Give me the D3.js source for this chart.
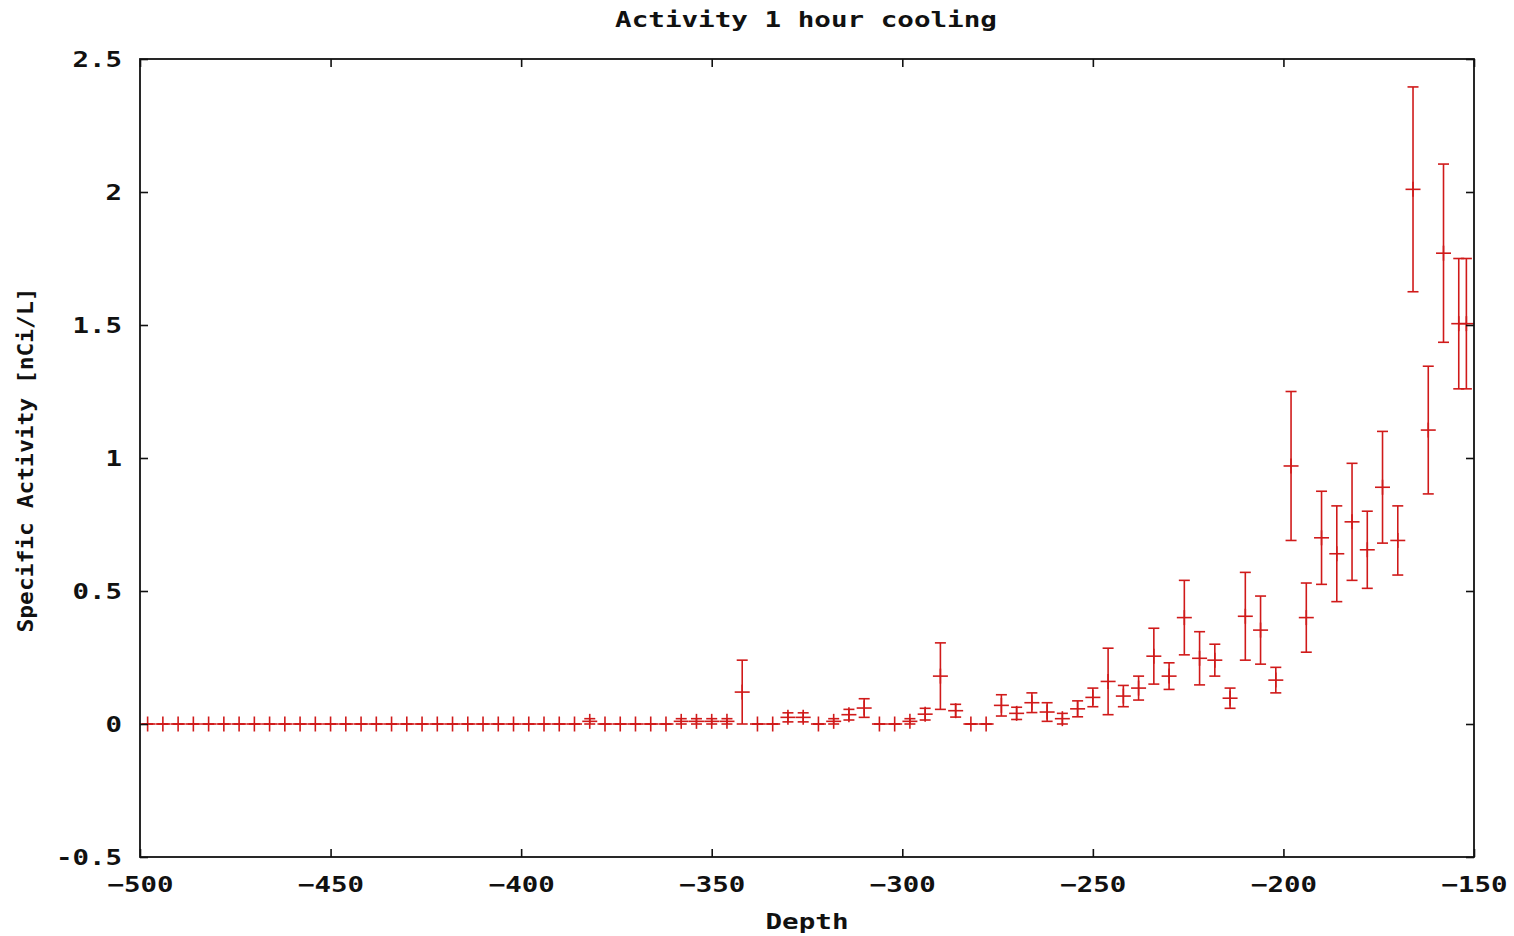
<!DOCTYPE html>
<html>
<head>
<meta charset="utf-8">
<script src="https://cdn.jsdelivr.net/npm/d3@7"></script>
<style>
  html, body { margin: 0; padding: 0; background: #fff; }
  svg { display: block; }
  text { font-family: "DejaVu Sans Mono", "Liberation Mono", monospace; font-weight: bold; fill: #111; }
</style>
</head>
<body>
<svg id="chart" width="1514" height="936"></svg>
<script>
// ---- data ----
const title = "Activity 1 hour cooling";
const xLabel = "Depth";
const yLabel = "Specific Activity [nCi/L]";

const depth = [
  -498, -494, -490, -486, -482, -478, -474, -470, -466, -462,
  -458, -454, -450, -446, -442, -438, -434, -430, -426, -422,
  -418, -414, -410, -406, -402, -398, -394, -390, -386, -382,
  -378, -374, -370, -366, -362, -358, -354, -350, -346, -342,
  -338, -334, -330, -326, -322, -318, -314, -310, -306, -302,
  -298, -294, -290, -286, -282, -278, -274, -270, -266, -262,
  -258, -254, -250, -246, -242, -238, -234, -230, -226, -222,
  -218, -214, -210, -206, -202, -198, -194, -190, -186, -182,
  -178, -174, -170, -166, -162, -158, -154, -152
];
const activity = [
  0, 0, 0, 0, 0, 0, 0, 0, 0, 0,
  0, 0, 0, 0, 0, 0, 0, 0, 0, 0,
  0, 0, 0, 0, 0, 0, 0, 0, 0, 0.01,
  0, 0, 0, 0, 0, 0.01, 0.01, 0.01, 0.01, 0.12,
  0, 0, 0.025, 0.025, 0, 0.01, 0.035, 0.06, 0, 0,
  0.01, 0.037, 0.18, 0.05, 0, 0, 0.07, 0.04, 0.08, 0.045,
  0.02, 0.057, 0.1, 0.16, 0.105, 0.135, 0.255, 0.18, 0.4, 0.247,
  0.24, 0.097, 0.405, 0.353, 0.165, 0.97, 0.4, 0.7, 0.64, 0.76,
  0.655, 0.89, 0.69, 2.01, 1.105, 1.77, 1.505, 1.505
];
const errorVal = [
  0, 0, 0, 0, 0, 0, 0, 0, 0, 0,
  0, 0, 0, 0, 0, 0, 0, 0, 0, 0,
  0, 0, 0, 0, 0, 0, 0, 0, 0, 0.01,
  0, 0, 0, 0, 0, 0.01, 0.01, 0.01, 0.01, 0.12,
  0, 0, 0.017, 0.017, 0, 0.01, 0.02, 0.035, 0, 0,
  0.01, 0.022, 0.125, 0.024, 0, 0, 0.04, 0.023, 0.037, 0.035,
  0.02, 0.03, 0.035, 0.125, 0.04, 0.045, 0.105, 0.05, 0.14, 0.1,
  0.06, 0.038, 0.165, 0.128, 0.048, 0.28, 0.13, 0.175, 0.18, 0.22,
  0.145, 0.21, 0.13, 0.385, 0.24, 0.335, 0.245, 0.245
];
const xTicks = [-500, -450, -400, -350, -300, -250, -200, -150];
const yTicks = [-0.5, 0, 0.5, 1, 1.5, 2, 2.5];
const yTickLabels = ["-0.5", "0", "0.5", "1", "1.5", "2", "2.5"];

// ---- layout ----
const W = 1514, H = 936;
const plot = { left: 140, right: 1474, top: 59, bottom: 857 };
const charW = 16.5;
const red = "#d01a1a";

const svg = d3.select("#chart");
const x = d3.scaleLinear().domain([-500, -150]).range([plot.left, plot.right]);
const y = d3.scaleLinear().domain([-0.5, 2.5]).range([plot.bottom, plot.top]);

function stretch(sel, cw) {
  sel.attr("textLength", function () { return this.textContent.length * cw; })
     .attr("lengthAdjust", "spacingAndGlyphs");
}

// data group (clipped to plot)
svg.append("clipPath").attr("id", "clip")
  .append("rect").attr("x", plot.left).attr("y", plot.top)
  .attr("width", plot.right - plot.left).attr("height", plot.bottom - plot.top);

const data = depth.map((d, i) => ({ d, v: activity[i], e: errorVal[i] }));
const g = svg.append("g").attr("clip-path", "url(#clip)")
  .attr("stroke", red).attr("stroke-width", 1.6).attr("fill", "none");

const cap = 5.5, plus = 7.5;
const pts = g.selectAll("g.pt").data(data).join("g").attr("class", "pt");
pts.append("line")
  .attr("x1", p => x(p.d)).attr("x2", p => x(p.d))
  .attr("y1", p => y(p.v - p.e)).attr("y2", p => y(p.v + p.e));
pts.append("line")
  .attr("x1", p => x(p.d) - cap).attr("x2", p => x(p.d) + cap)
  .attr("y1", p => y(p.v + p.e)).attr("y2", p => y(p.v + p.e));
pts.append("line")
  .attr("x1", p => x(p.d) - cap).attr("x2", p => x(p.d) + cap)
  .attr("y1", p => y(p.v - p.e)).attr("y2", p => y(p.v - p.e));
// '+' point marker
pts.append("line")
  .attr("x1", p => x(p.d) - plus).attr("x2", p => x(p.d) + plus)
  .attr("y1", p => y(p.v)).attr("y2", p => y(p.v));
pts.append("line")
  .attr("x1", p => x(p.d)).attr("x2", p => x(p.d))
  .attr("y1", p => y(p.v) - plus).attr("y2", p => y(p.v) + plus);

// axes (gnuplot style: inward ticks mirrored on all sides)
const tickLen = 8;
const axB = svg.append("g").attr("transform", `translate(0,${plot.bottom})`)
  .call(d3.axisBottom(x).tickValues(xTicks).tickSize(-tickLen).tickFormat(d3.format("d")));
const axT = svg.append("g").attr("transform", `translate(0,${plot.top})`)
  .call(d3.axisTop(x).tickValues(xTicks).tickSize(-tickLen).tickFormat(""));
const axL = svg.append("g").attr("transform", `translate(${plot.left},0)`)
  .call(d3.axisLeft(y).tickValues(yTicks).tickSize(-tickLen).tickFormat((d, i) => yTickLabels[i]));
const axR = svg.append("g").attr("transform", `translate(${plot.right},0)`)
  .call(d3.axisRight(y).tickValues(yTicks).tickSize(-tickLen).tickFormat(""));

[axB, axT, axL, axR].forEach(a => {
  a.select(".domain").remove();
  a.selectAll(".tick line").attr("stroke", "#111").attr("stroke-width", 1.6);
});

axB.selectAll(".tick text")
  .attr("y", 35).attr("dy", null)
  .style("font-size", "21px").style("font-family", null).attr("fill", "#111")
  .attr("text-anchor", "middle")
  .call(stretch, charW);
axL.selectAll(".tick text")
  .attr("x", -18).attr("dy", "0.36em")
  .style("font-size", "21px").attr("fill", "#111")
  .attr("text-anchor", "end")
  .call(stretch, charW);
axB.attr("font-family", null).attr("font-size", null);
axL.attr("font-family", null).attr("font-size", null);

// frame
svg.append("rect")
  .attr("x", plot.left).attr("y", plot.top)
  .attr("width", plot.right - plot.left).attr("height", plot.bottom - plot.top)
  .attr("fill", "none").attr("stroke", "#111").attr("stroke-width", 1.8);

// titles
svg.append("text").text(title)
  .attr("x", (plot.left + plot.right) / 2 - 1).attr("y", 27)
  .attr("text-anchor", "middle").style("font-size", "21px")
  .call(stretch, 16.6);
svg.append("text").text(xLabel)
  .attr("x", (plot.left + plot.right) / 2).attr("y", 929)
  .attr("text-anchor", "middle").style("font-size", "21px")
  .call(stretch, 16.6);
svg.append("text").text(yLabel)
  .attr("transform", "translate(33,460) rotate(-90)")
  .attr("text-anchor", "middle").style("font-size", "21px")
  .call(stretch, 13.8);
</script>
</body>
</html>
